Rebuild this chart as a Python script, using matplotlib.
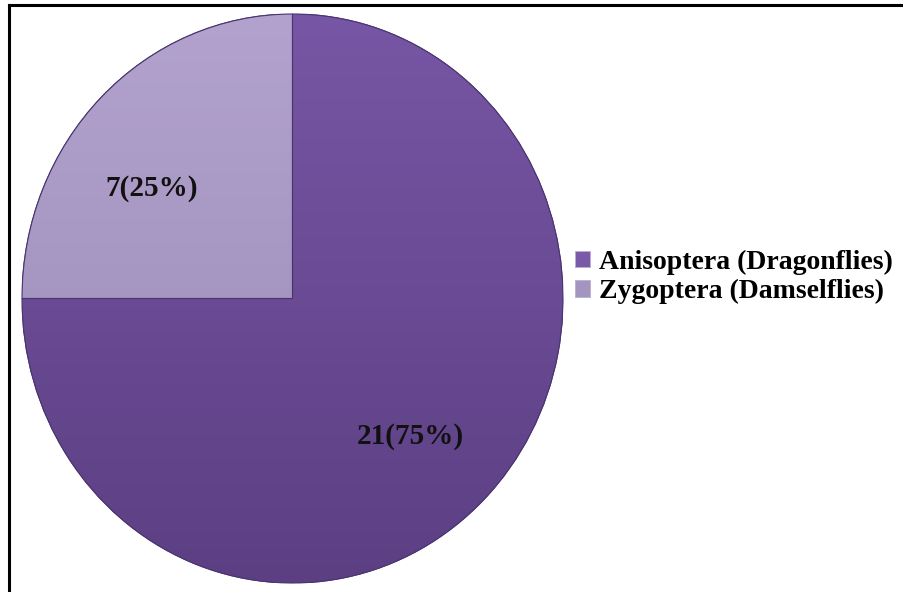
import numpy as np
import matplotlib
matplotlib.use("Agg")
import matplotlib.pyplot as plt
from matplotlib.lines import Line2D
from matplotlib.patches import Patch, Wedge

# data
suborders = ["Anisoptera (Dragonflies)", "Zygoptera (Damselflies)"]
counts = [21, 7]
colors = ["#6a4d97", "#a695c3"]
grad_top = ["#7756a5", "#b2a2cd"]
grad_bottom = ["#5c3f83", "#998ab6"]

W, H = 904, 592
fig = plt.figure(figsize=(W / 100, H / 100), dpi=100)
fig.patch.set_facecolor("white")

# pie spans x 22..563, y 14..583 (pixels), slightly stretched vertically
ax = fig.add_axes([22 / W, (H - 583) / H, 541 / W, 569 / H])

total = sum(counts)
def fmt(p):
    n = int(round(p * total / 100))
    return f"{n}({p:.0f}%)"

wedges, texts, autotexts = ax.pie(
    counts, colors=colors, startangle=90, counterclock=False,
    autopct=fmt, pctdistance=0.65, radius=1,
    wedgeprops=dict(edgecolor="#4a3570", linewidth=0.8),
    textprops=dict(family="Liberation Serif", fontweight="bold",
                   fontsize=21, color="#111111"))
ax.set_aspect("auto")
ax.set_xlim(-1, 1)
ax.set_ylim(-1, 1)
ax.axis("off")

# vertical gradient inside each wedge
for w, c0, c1 in zip(wedges, grad_top, grad_bottom):
    a = np.array(matplotlib.colors.to_rgb(c0))
    b = np.array(matplotlib.colors.to_rgb(c1))
    t = np.linspace(0, 1, 256)[:, None]
    img = (a * (1 - t) + b * t)[:, None, :]
    im = ax.imshow(img, extent=[-1, 1, -1, 1], aspect="auto", zorder=w.get_zorder() + 0.1)
    im.set_clip_path(w)
for w in wedges:
    ax.add_patch(Wedge(w.center, w.r, w.theta1, w.theta2,
                       facecolor="none", edgecolor="#4a3570", linewidth=0.8, zorder=3))

# label positions (pixels) nudged to match reference
label_px = [(410, 437), (152, 188)]
for t, (px, py) in zip(autotexts, label_px):
    t.set_position(((px - 292.5) / 270.5, (298.5 - py) / 284.5))
    t.set_zorder(5)

handles = [Patch(facecolor=c, edgecolor="#b9aed0", linewidth=0.6) for c in ["#7a5aa8", "#a494c0"]]
fig.legend(handles, suborders, loc="center left", bbox_to_anchor=(575 / W, 1 - 277 / H),
           frameon=False, handlelength=0.55, handleheight=0.55, handletextpad=0.3,
           labelspacing=0.15, borderaxespad=0, borderpad=0,
           prop=dict(family="Liberation Serif", weight="bold", size=20))

# frame lines (top and left only, image cropped)
fig.add_artist(Line2D([8.5 / W, 1], [1 - 4.5 / H, 1 - 4.5 / H], color="black", lw=2.2))
fig.add_artist(Line2D([8.5 / W, 8.5 / W], [0, 1 - 4.5 / H], color="black", lw=2.2))

fig.savefig("out.png", dpi=100, facecolor="white")
